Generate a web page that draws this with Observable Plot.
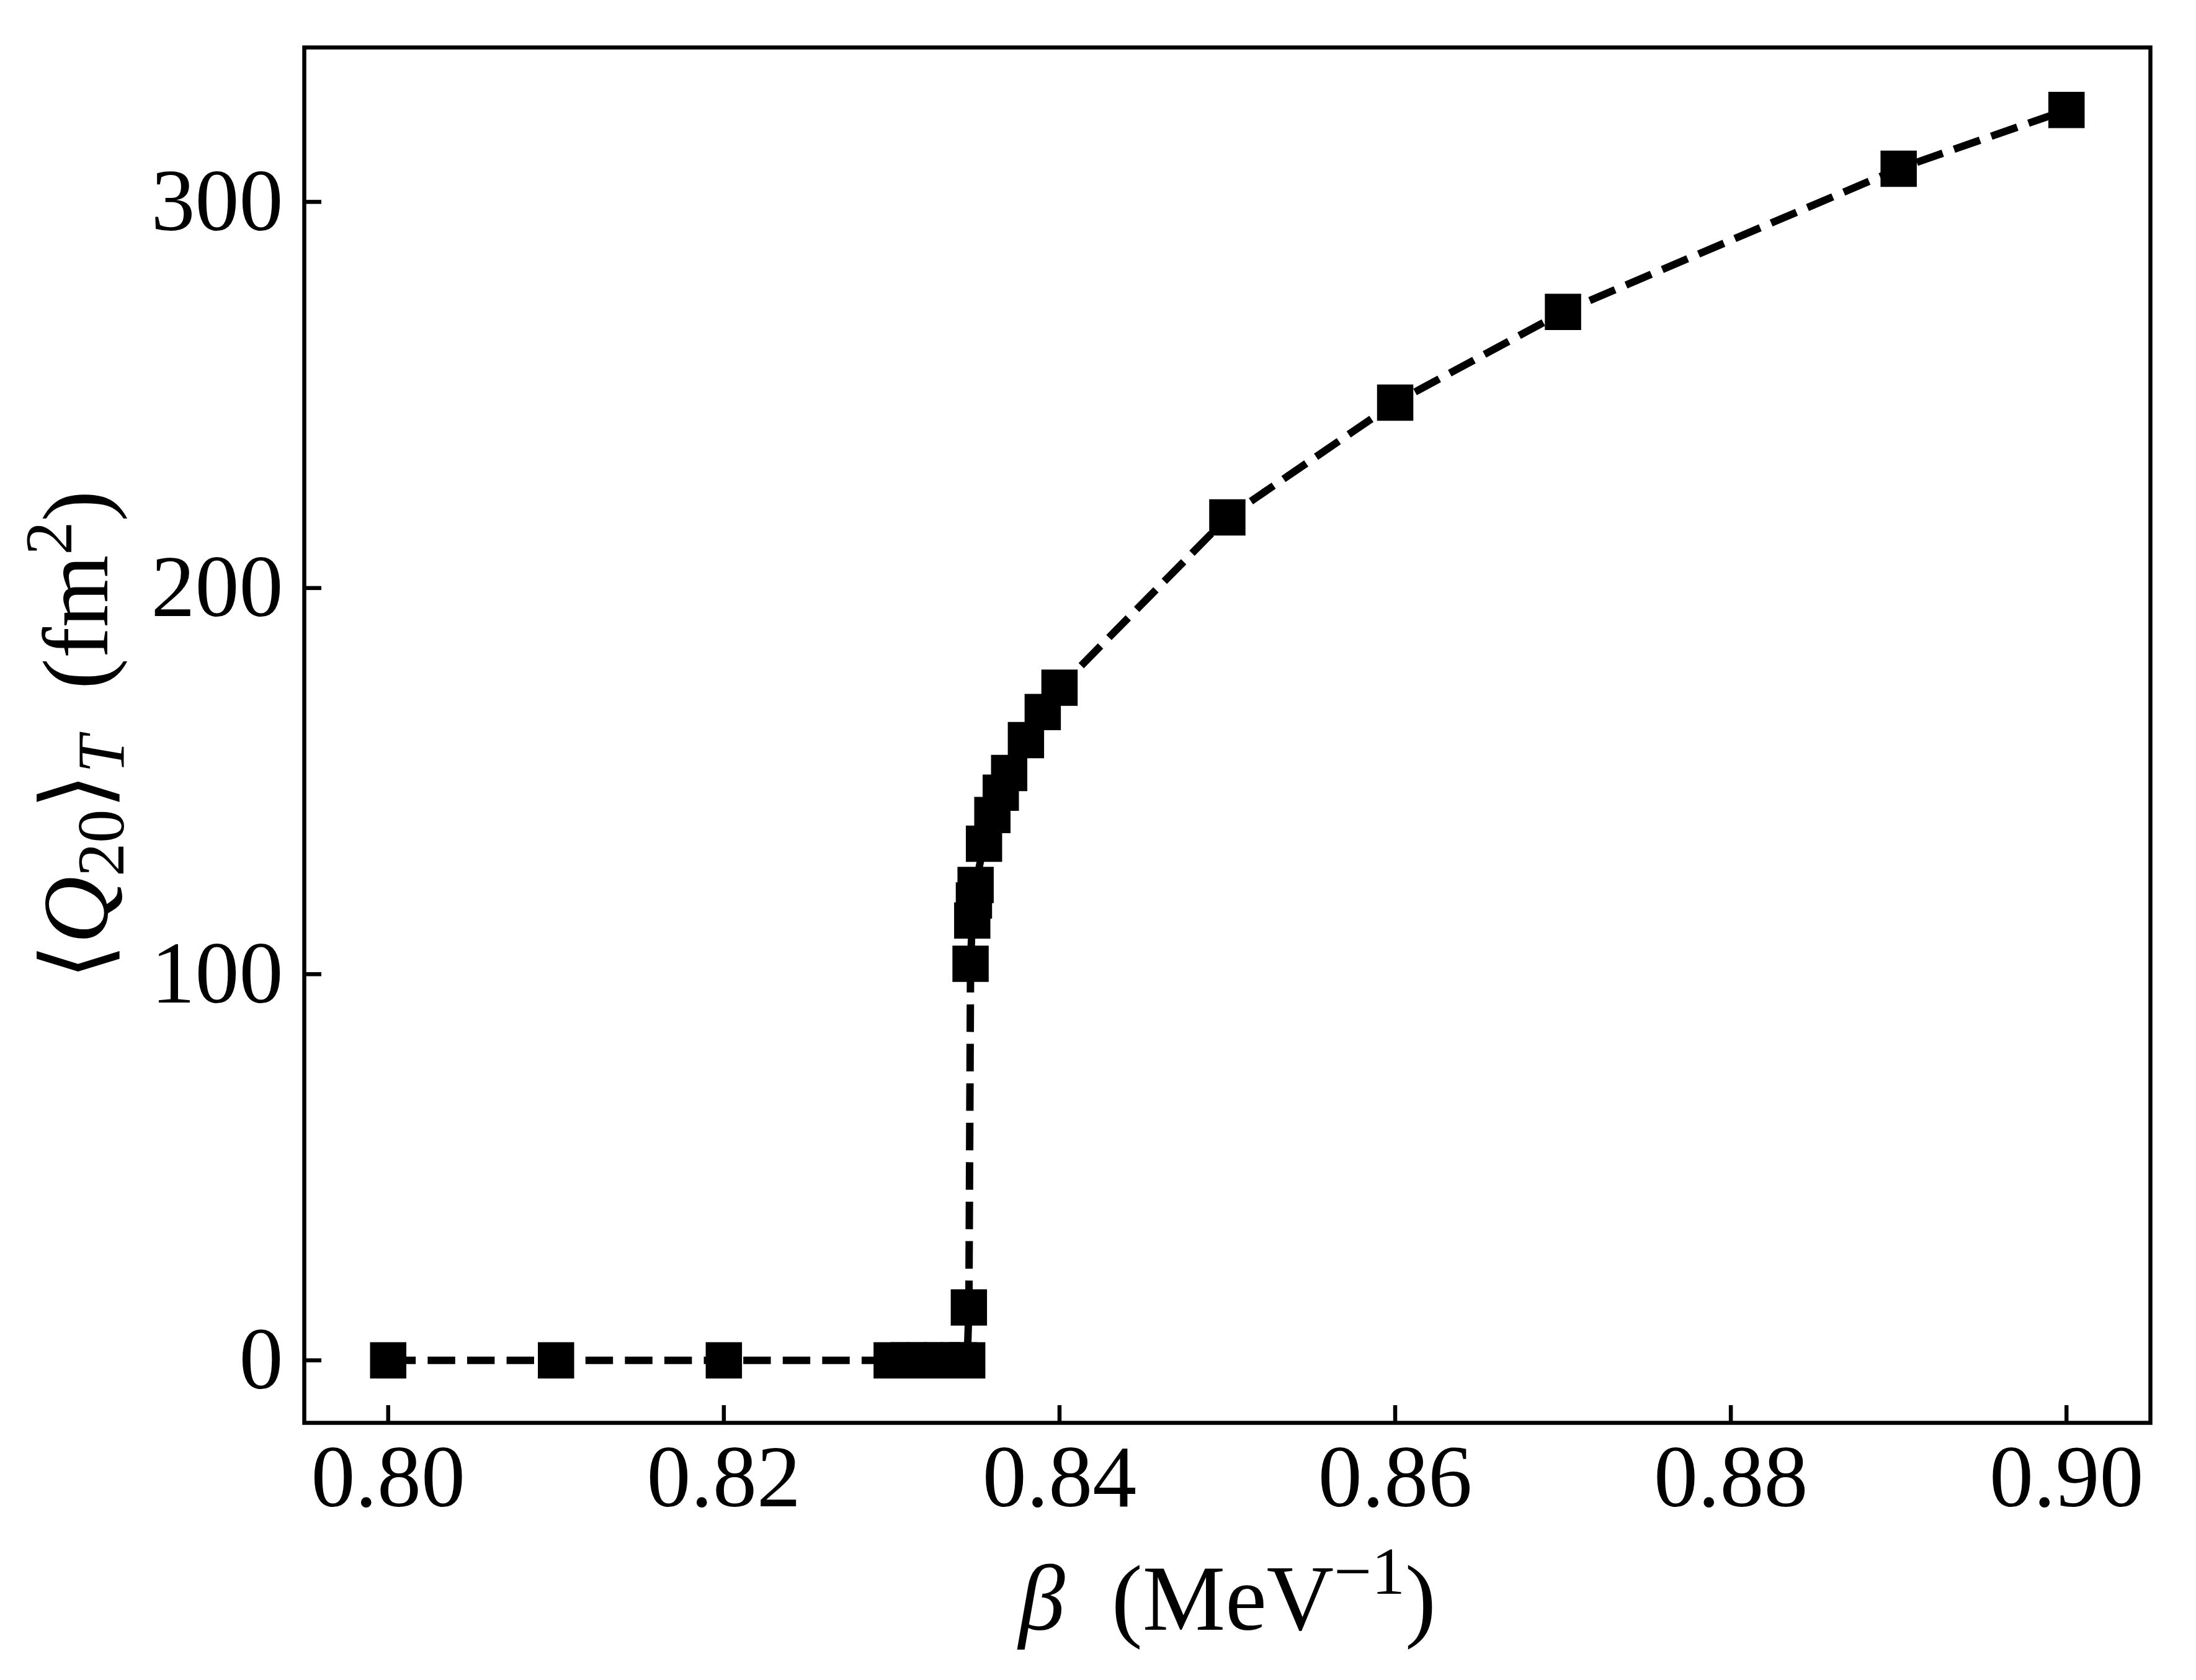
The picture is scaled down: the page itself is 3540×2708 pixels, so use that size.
<!DOCTYPE html>
<html>
<head>
<meta charset="utf-8">
<script src="https://cdn.jsdelivr.net/npm/d3@7"></script>
<script src="https://cdn.jsdelivr.net/npm/@observablehq/plot@0.6"></script>
<style>
  html, body { margin: 0; padding: 0; background: #fff; overflow: hidden; }
  #chart { width: 3540px; height: 2708px; }
</style>
</head>
<body>
<div id="chart"></div>
<script>
// ---- data ----
const beta = [0.80, 0.81, 0.82, 0.83, 0.831, 0.832, 0.833, 0.834, 0.8345,
              0.8346, 0.8347, 0.8348, 0.8349, 0.835, 0.8355, 0.836, 0.8365,
              0.837, 0.838, 0.839, 0.840, 0.85, 0.86, 0.87, 0.89, 0.90];
const q20 = [0, 0, 0, 0, 0, 0, 0, 0, 0,
             13.7, 102.7, 113.9, 119.1, 123.1, 133.8, 141.2, 147.0,
             152.1, 160.6, 167.9, 174.2, 218.3, 248.0, 271.5, 308.6, 323.8];
const xTicks = [0.80, 0.82, 0.84, 0.86, 0.88, 0.90];
const yTicks = [0, 100, 200, 300];
const xLabelText = "β (MeV−1)";
const yLabelText = "⟨Q20⟩T (fm2)";

const data = beta.map((b, i) => ({beta: b, q: q20[i]}));

// matplotlib-like 5% margins
const xMin = d3.min(beta), xMax = d3.max(beta);
const yMin = d3.min(q20), yMax = d3.max(q20);
const xPad = 0.05 * (xMax - xMin), yPad = 0.05 * (yMax - yMin);

const W = 3540, H = 2708;
const mL = 490, mR = 74, mT = 76, mB = 415;
const innerW = W - mL - mR, innerH = H - mT - mB;
const tickLen = 28;
const font = "'Liberation Serif', 'DejaVu Serif', serif";

const svg = Plot.plot({
  width: W,
  height: H,
  marginLeft: mL,
  marginRight: mR,
  marginTop: mT,
  marginBottom: mB,
  style: {fontFamily: font, fontSize: "142px", background: "white", color: "black", overflow: "visible"},
  x: {domain: [xMin - xPad, xMax + xPad]},
  y: {domain: [yMin - yPad, yMax + yPad]},
  marks: [
    Plot.line(data, {x: "beta", y: "q", stroke: "black", strokeWidth: 12,
      strokeDasharray: "44.4,19.2", strokeLinecap: "butt", strokeLinejoin: "round"}),
    Plot.dot(data, {x: "beta", y: "q", symbol: "square", r: 33, fill: "black"}),
    Plot.frame({stroke: "black", strokeWidth: 6.5}),
    Plot.tickX(xTicks, {x: d => d, insetTop: innerH - tickLen, stroke: "black", strokeWidth: 6.5}),
    Plot.tickY(yTicks, {y: d => d, insetRight: innerW - tickLen, stroke: "black", strokeWidth: 6.5}),
    Plot.axisX({ticks: xTicks, tickFormat: d => d.toFixed(2), tickSize: 0, tickPadding: 34, label: null}),
    Plot.axisY({ticks: yTicks, tickFormat: d => String(d), tickSize: 0, tickPadding: 34, label: null}),
    Plot.text([xLabelText], {frameAnchor: "bottom", dy: 333, textAnchor: "middle",
      lineAnchor: "bottom", fill: "black", fontSize: 150}),
    Plot.text([yLabelText], {frameAnchor: "left", dx: -318, rotate: -90, textAnchor: "middle",
      lineAnchor: "bottom", fill: "black", fontSize: 150})
  ]
});

document.getElementById("chart").appendChild(svg);

// rich text (sub/superscripts, italics) for the axis labels
function rich(label, parts) {
  const t = Array.from(svg.querySelectorAll("text")).find(el => el.textContent === label);
  if (!t) return;
  const ns = "http://www.w3.org/2000/svg";
  t.textContent = "";
  let shift = 0;
  for (const p of parts) {
    const ts = document.createElementNS(ns, "tspan");
    ts.textContent = p.t;
    if (p.italic) ts.setAttribute("font-style", "italic");
    if (p.size) ts.setAttribute("font-size", p.size);
    const target = p.shift || 0;
    if (target !== shift) ts.setAttribute("dy", target - shift);
    shift = target;
    t.appendChild(ts);
  }
}
rich(xLabelText, [
  {t: "β", italic: true},
  {t: "  (MeV"},
  {t: "−1", size: 108, shift: -58},
  {t: ")", shift: 0}
]);
rich(yLabelText, [
  {t: "⟨"},
  {t: "Q", italic: true},
  {t: "20", size: 108, shift: 26},
  {t: "⟩", shift: 0},
  {t: "T", italic: true, size: 108, shift: 26},
  {t: "  (fm", shift: 0},
  {t: "2", size: 108, shift: -58},
  {t: ")", shift: 0}
]);
</script>
</body>
</html>
